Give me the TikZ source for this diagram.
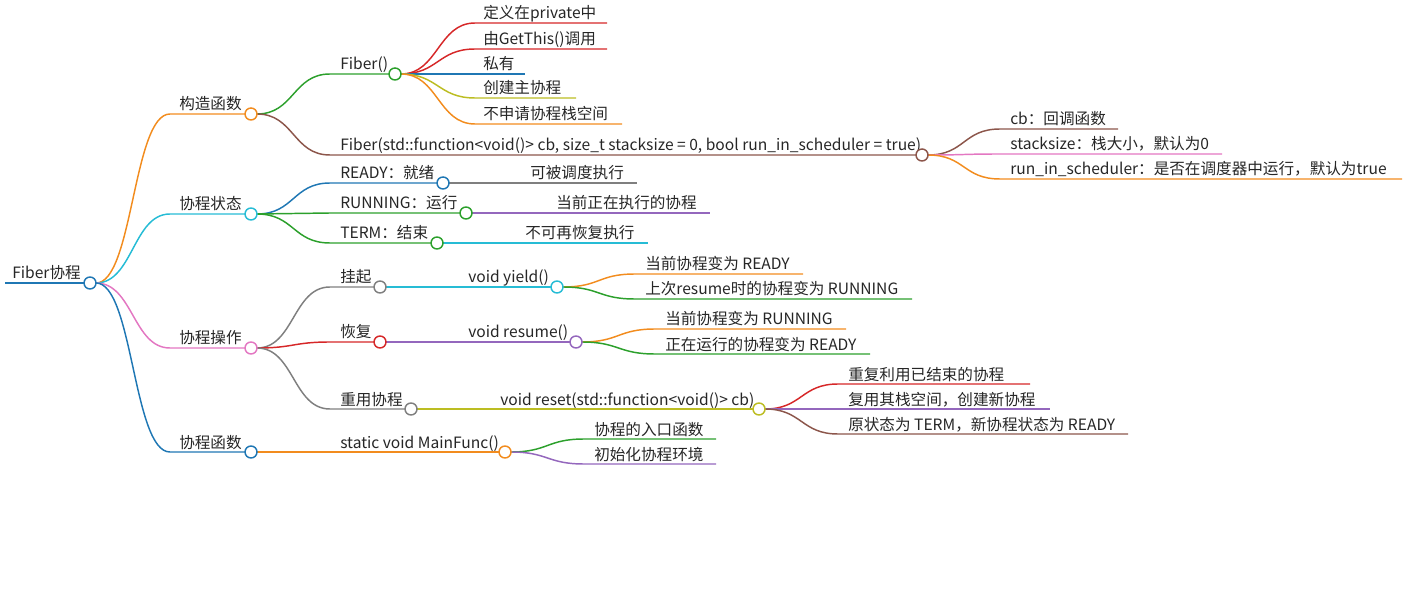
\documentclass[tikz,border=0pt]{standalone}
\usepackage{fontspec}
\setmainfont{Noto Sans CJK SC}
\usetikzlibrary{calc}
\definecolor{mmorange}{HTML}{F28C1E}
\definecolor{mmcyan}{HTML}{26BCD5}
\definecolor{mmpink}{HTML}{E377C2}
\definecolor{mmblue}{HTML}{1F77B4}
\definecolor{mmgreen}{HTML}{2CA02C}
\definecolor{mmbrown}{HTML}{8C564B}
\definecolor{mmred}{HTML}{D62728}
\definecolor{mmolive}{HTML}{BCBD22}
\definecolor{mmpurple}{HTML}{9467BD}
\definecolor{mmgray}{HTML}{7F7F7F}
\tikzset{
  lbl/.style={inner sep=0pt,font=\fontsize{11.7}{14}\selectfont,text=black!85},
  edge/.style={line width=1.1pt},
  dot/.style={circle,draw=#1,fill=white,line width=1.1pt,minimum size=9pt,inner sep=0pt}
}
% #1 name, #2 colour, #3 parent, #4 start x, #5 end x, #6 y, #7 text, #8 text x
\newcommand\mmline[8]{%
  \coordinate (#1s) at (#4,#6);
  \coordinate (#1e) at (#5,#6);
  \coordinate (#1c) at (#5+6,#6);
  \node[lbl,anchor=base west] (#1) at (#8,#6-4) {#7};
  \draw[#2,edge] ($(#3c)+(6,0)$) .. controls ($(#3c)+(43,0)$) and ($(#1s)-(37,0)$) .. (#1s) -- (#1e);
}
\begin{document}
\begin{tikzpicture}[x=0.75pt,y=-0.75pt]
  \useasboundingbox (0,0) rectangle (1407,602);

  % root
  \coordinate (roote) at (84,283);
  \coordinate (rootc) at (90,283);
  \draw[mmblue,line width=2.2pt] (5,283) -- (roote);
  \node[lbl,anchor=base west] (root) at (12,279) {Fiber协程};

  % level 1
  \mmline{k1}{mmorange}{root}{170}{245}{114}{构造函数}{179}
  \mmline{k2}{mmcyan}{root}{170}{245}{214}{协程状态}{179}
  \mmline{k3}{mmpink}{root}{170}{245}{348}{协程操作}{179}
  \mmline{k4}{mmblue}{root}{170}{245}{452}{协程函数}{179}

  % constructors
  \mmline{a1}{mmgreen}{k1}{330}{389}{74}{Fiber()}{340}
  \mmline{a2}{mmbrown}{k1}{330}{916}{155}{Fiber(std::function<void()> cb, size\_t stacksize = 0, bool run\_in\_scheduler = true)}{340}
  \mmline{a11}{mmred}{a1}{475}{607}{23}{定义在private中}{483}
  \mmline{a12}{mmred}{a1}{475}{607}{49}{由GetThis()调用}{483}
  \mmline{a13}{mmblue}{a1}{475}{525}{74}{私有}{483}
  \mmline{a14}{mmolive}{a1}{475}{576}{98}{创建主协程}{483}
  \mmline{a15}{mmorange}{a1}{475}{622}{124}{不申请协程栈空间}{483}
  \mmline{a21}{mmbrown}{a2}{1000}{1118}{129}{cb：回调函数}{1010}
  \mmline{a22}{mmpink}{a2}{1000}{1222}{154}{stacksize：栈大小，默认为0}{1010}
  \mmline{a23}{mmorange}{a2}{1000}{1402}{179}{run\_in\_scheduler：是否在调度器中运行，默认为true}{1010}

  % states
  \mmline{b1}{mmblue}{k2}{330}{437}{183}{READY：就绪}{340}
  \mmline{b2}{mmgreen}{k2}{330}{460}{213}{RUNNING：运行}{340}
  \mmline{b3}{mmgreen}{k2}{330}{431}{243}{TERM：结束}{340}
  \mmline{b11}{mmgray}{b1}{449}{637}{183}{可被调度执行}{530}
  \mmline{b21}{mmpurple}{b2}{472}{710}{213}{当前正在执行的协程}{556}
  \mmline{b31}{mmcyan}{b3}{443}{648}{243}{不可再恢复执行}{525}

  % operations
  \mmline{c1}{mmgray}{k3}{330}{374}{287}{挂起}{340}
  \mmline{c2}{mmred}{k3}{330}{374}{342}{恢复}{340}
  \mmline{c3}{mmgray}{k3}{330}{405}{409}{重用协程}{340}
  \mmline{c11}{mmcyan}{c1}{386}{551}{287}{void yield()}{468}
  \mmline{c21}{mmpurple}{c2}{386}{570}{342}{void resume()}{468}
  \mmline{c31}{mmolive}{c3}{417}{753}{409}{void reset(std::function<void()> cb)}{500}
  \mmline{c111}{mmorange}{c11}{635}{803}{274}{当前协程变为 READY}{645}
  \mmline{c112}{mmgreen}{c11}{635}{912}{299}{上次resume时的协程变为 RUNNING}{645}
  \mmline{c211}{mmorange}{c21}{655}{846}{329}{当前协程变为 RUNNING}{665}
  \mmline{c212}{mmgreen}{c21}{655}{870}{354}{正在运行的协程变为 READY}{665}
  \mmline{c311}{mmred}{c31}{838}{1030}{384}{重复利用已结束的协程}{848}
  \mmline{c312}{mmpurple}{c31}{838}{1050}{409}{复用其栈空间，创建新协程}{848}
  \mmline{c313}{mmbrown}{c31}{838}{1128}{434}{原状态为 TERM，新协程状态为 READY}{848}

  % main function
  \mmline{d1}{mmorange}{k4}{330}{499}{452}{static void MainFunc()}{340}
  \mmline{d11}{mmgreen}{d1}{584}{716}{439}{协程的入口函数}{594}
  \mmline{d12}{mmpurple}{d1}{584}{716}{464}{初始化协程环境}{594}

  % circles on top
  \foreach \n/\c in {root/mmblue,k1/mmorange,k2/mmcyan,k3/mmpink,k4/mmblue,a1/mmgreen,a2/mmbrown,
      b1/mmblue,b2/mmgreen,b3/mmgreen,c1/mmgray,c2/mmred,c3/mmgray,
      c11/mmcyan,c21/mmpurple,c31/mmolive,d1/mmorange}
    \node[dot=\c] at (\n c) {};
\end{tikzpicture}
\end{document}
